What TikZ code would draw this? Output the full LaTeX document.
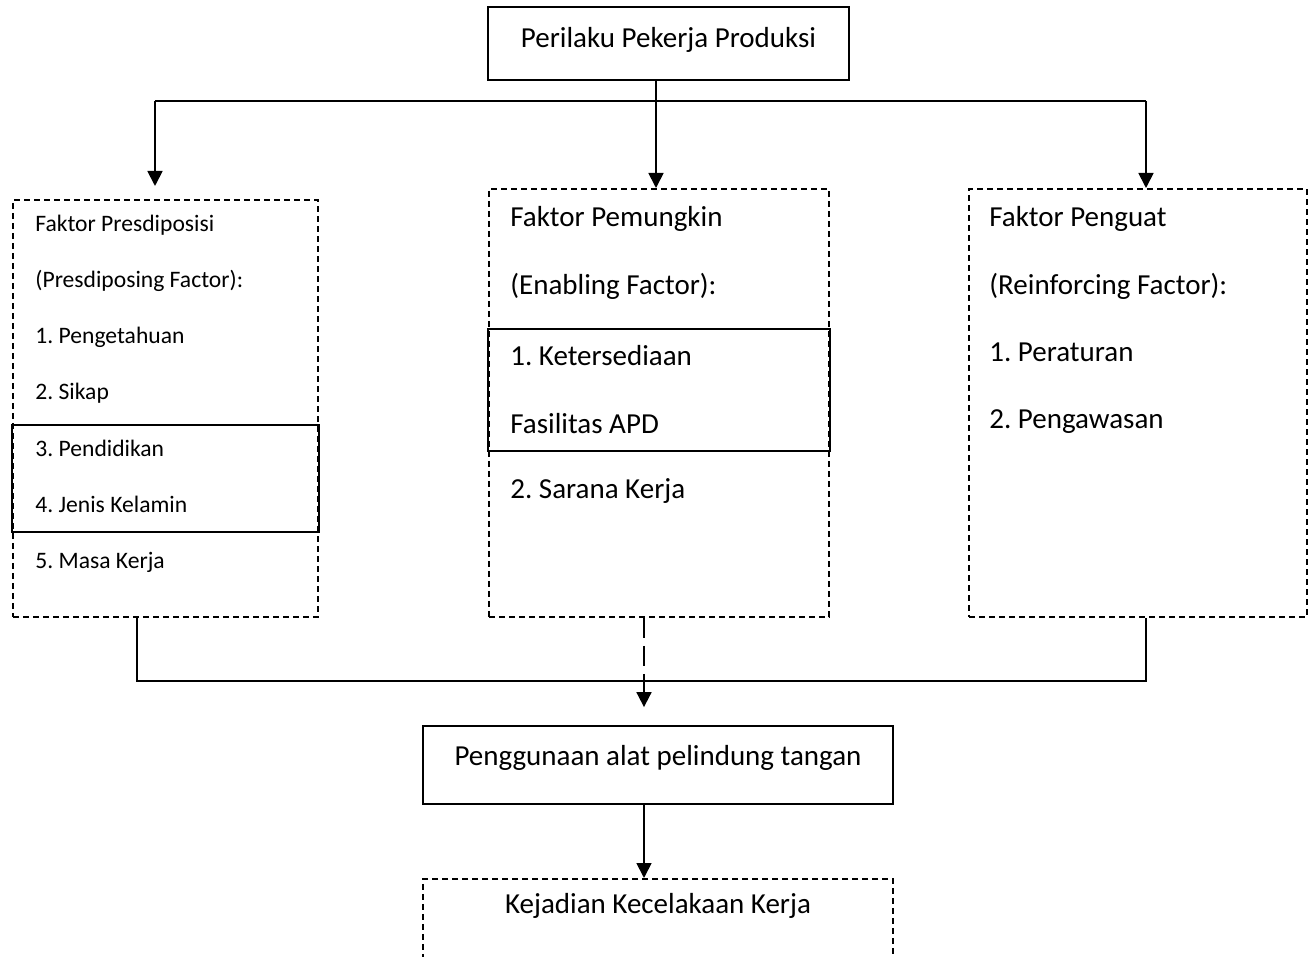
\documentclass[tikz,border=0pt]{standalone}
\usepackage{fontspec}
\setmainfont{Carlito}
\usepackage{tikz}
\usetikzlibrary{arrows.meta}
\frenchspacing

\begin{document}
\begin{tikzpicture}[x=0.5pt,y=-0.5pt]
\tikzset{dbox/.style={draw,dash pattern=on 3pt off 2pt,line width=0.9pt,inner sep=0,anchor=north west},
         sbox/.style={draw,line width=0.9pt,inner sep=0,font=\fontsize{14.5}{17}\selectfont},
         bigtxt/.style={anchor=base west,inner sep=0,font=\fontsize{14.5}{17}\selectfont},
         smalltxt/.style={anchor=base west,inner sep=0,font=\fontsize{11.8}{14}\selectfont},
         line/.style={line width=0.9pt},
         arr/.style={line width=0.9pt,-{Triangle[width=7.5pt,length=7.5pt]}}}
\useasboundingbox (0,0) rectangle (1314,957);
\clip (0,0) rectangle (1314,957);

% top
\node[sbox,minimum width=180.5pt,text height=20.5pt,text depth=16pt] (perilaku) at (668.5,43.5) {Perilaku Pekerja Produksi};

% three factor boxes
\node[dbox,minimum width=152.5pt,minimum height=208.5pt] (predis) at (12,199) {};
\node[dbox,minimum width=170pt,minimum height=214pt] (pemungkin) at (488,188) {};
\node[dbox,minimum width=169pt,minimum height=214pt] (penguat) at (968,188) {};

\draw[line] (predis.west |- 0,425) rectangle (predis.east |- 0,532);
\draw[line] (pemungkin.west |- 0,329) rectangle (pemungkin.east |- 0,451);

\node[smalltxt] (pr1) at (35,232) {Faktor Presdiposisi};
\node[smalltxt] (pr2) at (35,288) {(Presdiposing Factor):};
\node[smalltxt] (pr3) at (35,344) {1. Pengetahuan};
\node[smalltxt] (pr4) at (35,400) {2. Sikap};
\node[smalltxt] (pr5) at (35,457) {3. Pendidikan};
\node[smalltxt] (pr6) at (35,513) {4. Jenis Kelamin};
\node[smalltxt] (pr7) at (35,568) {5. Masa Kerja};

\node[bigtxt] (pm1) at (510,227) {Faktor Pemungkin};
\node[bigtxt] (pm2) at (510,295) {(Enabling Factor):};
\node[bigtxt] (pm3) at (510,366) {1. Ketersediaan};
\node[bigtxt] (pm4) at (510,434) {Fasilitas APD};
\node[bigtxt] (pm5) at (510,499) {2. Sarana Kerja};

\node[bigtxt] (pg1) at (989,227) {Faktor Penguat};
\node[bigtxt] (pg2) at (989,295) {(Reinforcing Factor):};
\node[bigtxt] (pg3) at (989,362) {1. Peraturan};
\node[bigtxt] (pg4) at (989,429) {2. Pengawasan};

% bottom
\node[sbox,minimum width=235pt,text height=19.5pt,text depth=19.5pt] (guna) at (658,765) {Penggunaan alat pelindung tangan};
\node[dbox,anchor=north,font=\fontsize{14.5}{17}\selectfont,minimum width=235pt,text height=17.5pt,text depth=30pt] (kejadian) at (658,878) {Kejadian Kecelakaan Kerja};

% connectors
\coordinate (kiri) at (155,101);
\coordinate (kanan) at (1146,101);
\coordinate (tengah) at (656,101);
\draw[line] (kiri) -- (kanan);
\draw[arr] (tengah |- perilaku.south) -- (tengah |- pemungkin.north);
\draw[arr,shorten >=6.5pt] (kiri) -- (kiri |- predis.north);
\draw[arr] (kanan) -- (kanan |- penguat.north);

\coordinate (bkiri) at (137,681);
\coordinate (bkanan) at (1146,681);
\coordinate (bawah) at (644,681);
\draw[line] (bkiri |- predis.south) -- (bkiri) -- (bkanan) -- (bkanan |- penguat.south);
\draw[line,dash pattern=on 10pt off 4pt] (bawah |- pemungkin.south) -- (bawah);
\draw[arr,shorten >=9pt] (bawah) -- (bawah |- guna.north);
\draw[arr] (bawah |- guna.south) -- (bawah |- kejadian.north);
\end{tikzpicture}
\end{document}
